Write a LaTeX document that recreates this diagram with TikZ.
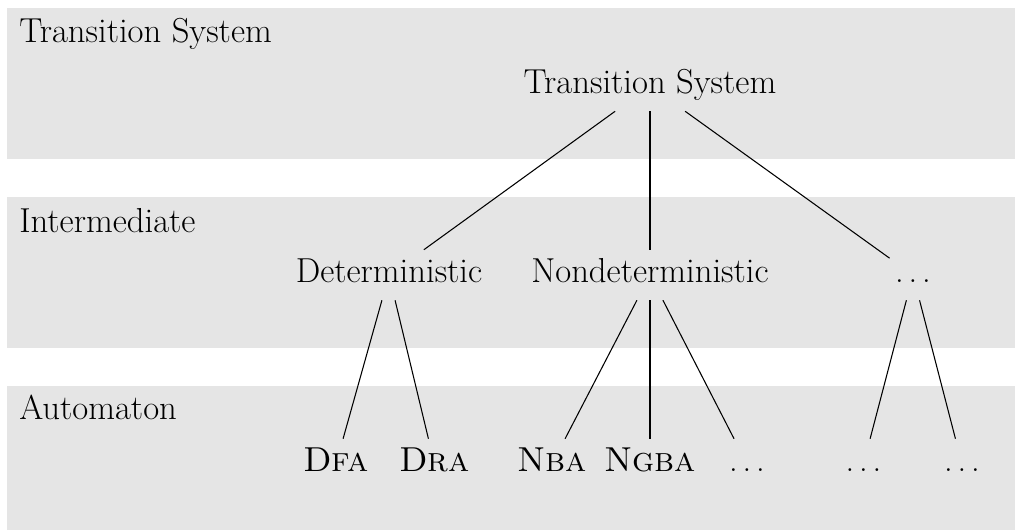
\documentclass[tikz,border=0pt]{standalone}
\newcommand\tdots{.\kern3.6pt.\kern3.6pt.}
\begin{document}
\begin{tikzpicture}[x=0.75pt,y=-0.75pt,
  font=\fontsize{26}{31}\selectfont,
  band/.style={fill=black!10},
  levellabel/.style={anchor=base west, inner sep=0pt},
  item/.style={anchor=base, text height=16.5pt, text depth=4.5pt,
               inner xsep=4pt, inner ysep=8.25pt},
  branch/.style={line width=0.8pt}]
\useasboundingbox (0,0) rectangle (1015,530);

% level bands
\fill[band] (7,8)   rectangle (1015,159);
\fill[band] (7,197) rectangle (1015,348);
\fill[band] (7,386) rectangle (1015,530);

% level names
\node[levellabel] (l1) at (19,43)  {Transition System};
\node[levellabel] (l2) at (19,233) {Intermediate};
\node[levellabel] (l3) at (19,420) {Automaton};

% root
\node[item] (ts) at (650,94) {Transition System};

% intermediate level
\node[item] (det)  at (389,283) {Deterministic};
\node[item] (ndet) at (650,283) {Nondeterministic};
\node[item] (oth)  at (913,283) {\tdots};

% automaton level
\node[item] (dfa)  at (336,472) {\textsc{Dfa}};
\node[item] (dra)  at (434.5,472) {\textsc{Dra}};
\node[item] (nba)  at (552,472) {\textsc{Nba}};
\node[item] (ngba) at (650,472) {\textsc{Ngba}};
\node[item] (nx)   at (747,472) {\tdots};
\node[item] (ox1)  at (863.5,472) {\tdots};
\node[item] (ox2)  at (962,472) {\tdots};

% branches
\draw[branch] (ts) -- (det);
\draw[branch] (ts) -- (ndet);
\draw[branch] (ts) -- (oth);
\draw[branch] (det) -- (dfa);
\draw[branch] (det) -- (dra);
\draw[branch] (ndet) -- (nba);
\draw[branch] (ndet) -- (ngba);
\draw[branch] (ndet) -- (nx);
\draw[branch] (oth) -- (ox1);
\draw[branch] (oth) -- (ox2);
\end{tikzpicture}
\end{document}
